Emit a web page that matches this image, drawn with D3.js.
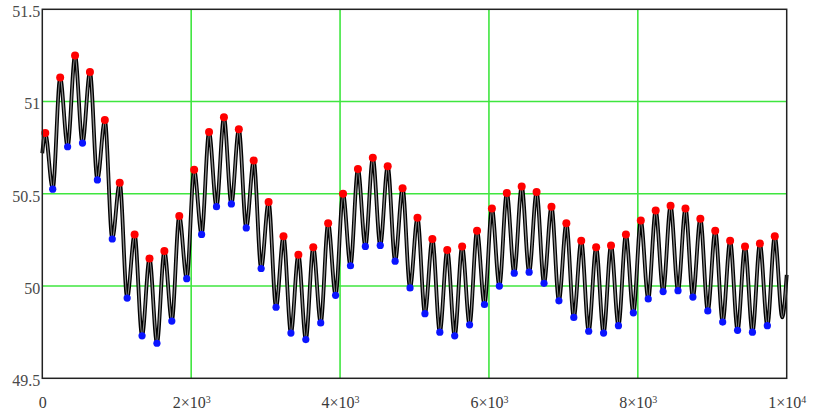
<!DOCTYPE html>
<html>
<head>
<meta charset="utf-8">
<title>Oscillation plot</title>
<script src="https://d3js.org/d3.v7.min.js"></script>
<style>
  body { margin: 0; background: #fff; }
  .tick text { font-family: "Liberation Serif", "Times New Roman", serif; font-size: 16px; }
</style>
</head>
<body>
<div id="chart"></div>
<script>
// values
var peakTimes = d3.range(40, 10000, 200);      // one maximum every 200 units
var troughTimes = d3.range(140, 10000, 200);   // minima half a cycle later

var peakValues = [50.83, 51.13, 51.25, 51.16, 50.90, 50.56, 50.28, 50.15, 50.19, 50.38,
  50.63, 50.835, 50.915, 50.85, 50.68, 50.455, 50.27, 50.17, 50.21, 50.34,
  50.50, 50.635, 50.695, 50.65, 50.53, 50.37, 50.255, 50.195, 50.215, 50.30,
  50.42, 50.505, 50.54, 50.51, 50.43, 50.34, 50.245, 50.21, 50.22, 50.28,
  50.355, 50.41, 50.435, 50.42, 50.365, 50.30, 50.245, 50.215, 50.23, 50.27];

var troughValues = [50.525, 50.755, 50.775, 50.575, 50.255, 49.935, 49.73, 49.69, 49.81, 50.04,
  50.28, 50.43, 50.445, 50.315, 50.095, 49.885, 49.745, 49.71, 49.80, 49.95,
  50.11, 50.215, 50.22, 50.135, 49.99, 49.85, 49.75, 49.73, 49.79, 49.90,
  50.00, 50.07, 50.075, 50.015, 49.92, 49.83, 49.755, 49.745, 49.785, 49.855,
  49.93, 49.97, 49.975, 49.94, 49.865, 49.805, 49.76, 49.75, 49.785, 49.83];

var startValue = 50.72, endValue = 50.06;   // line at x = 0 and x = 1e4

var xTicks = [0, 2000, 4000, 6000, 8000, 10000];
var xTickLabels = [["0", ""], ["2\u00d710", "3"], ["4\u00d710", "3"], ["6\u00d710", "3"], ["8\u00d710", "3"], ["1\u00d710", "4"]];
var yTicks = [49.5, 50, 50.5, 51, 51.5];
var yGrid = [50, 50.5, 51];
var xGrid = [2000, 4000, 6000, 8000];

// build the line: start, then alternating max / min, then end
var linePts = [{x: 0, y: startValue}];
peakTimes.forEach(function (t, i) {
  linePts.push({x: t, y: peakValues[i]});
  if (i < troughValues.length) linePts.push({x: troughTimes[i], y: troughValues[i]});
});
linePts.push({x: 10000, y: endValue});

var peaks = peakTimes.map(function (t, i) { return {x: t, y: peakValues[i]}; });
// the last minimum at the right edge carries no marker
var troughs = troughValues.slice(0, 49).map(function (v, i) { return {x: troughTimes[i], y: v}; });

var margin = {top: 9.3, right: 26.3, bottom: 37.7, left: 42.3},
    width = 813 - margin.left - margin.right,
    height = 416 - margin.top - margin.bottom;

var svg = d3.select("#chart").append("svg")
    .attr("width", 813)
    .attr("height", 416)
  .append("g")
    .attr("transform", "translate(" + margin.left + "," + margin.top + ")");

var x = d3.scaleLinear().domain([0, 10000]).range([0, width]);
var y = d3.scaleLinear().domain([49.5, 51.5]).range([height, 0]);

// grid
svg.selectAll(".hgrid").data(yGrid).enter().append("line")
    .attr("x1", 0).attr("x2", width)
    .attr("y1", function (d) { return y(d); }).attr("y2", function (d) { return y(d); })
    .style("stroke", "#3fe63f").style("stroke-width", 1.6);
svg.selectAll(".vgrid").data(xGrid).enter().append("line")
    .attr("y1", 0).attr("y2", height)
    .attr("x1", function (d) { return x(d); }).attr("x2", function (d) { return x(d); })
    .style("stroke", "#3fe63f").style("stroke-width", 1.6);

// signal
var line = d3.line()
    .x(function (d) { return x(d.x); })
    .y(function (d) { return y(d.y); })
    .curve(d3.curveMonotoneX);

svg.append("path").datum(linePts)
    .attr("d", line)
    .style("fill", "none").style("stroke", "#000").style("stroke-width", 3.8);
svg.append("path").datum(linePts)
    .attr("d", line)
    .style("fill", "none").style("stroke", "#8c8c8c").style("stroke-width", 1.4);

svg.selectAll(".peak").data(peaks).enter().append("circle")
    .attr("cx", function (d) { return x(d.x); })
    .attr("cy", function (d) { return y(d.y); })
    .attr("r", 4)
    .style("fill", "#ff0000");
svg.selectAll(".trough").data(troughs).enter().append("circle")
    .attr("cx", function (d) { return x(d.x); })
    .attr("cy", function (d) { return y(d.y); })
    .attr("r", 3.6)
    .style("fill", "#0a14ff");

// frame
svg.append("rect")
    .attr("width", width).attr("height", height)
    .style("fill", "none").style("stroke", "#222").style("stroke-width", 1.5);

// axes (labels only, like the original)
var yAxis = d3.axisLeft(y).tickValues(yTicks).tickSize(0).tickPadding(2)
    .tickFormat(function (d) { return d; });
var gy = svg.append("g").attr("class", "y axis").call(yAxis);
gy.select(".domain").remove();
gy.selectAll("text").style("fill", "#4a4a4a").attr("dy", "0.45em");

var xAxis = d3.axisBottom(x).tickValues(xTicks).tickSize(0).tickPadding(18);
var gx = svg.append("g").attr("class", "x axis")
    .attr("transform", "translate(0," + height + ")")
    .call(xAxis);
gx.select(".domain").remove();
gx.selectAll("text").each(function (d, i) {
  var t = d3.select(this).text("").style("fill", "#3a3a3a").attr("text-anchor", "middle");
  t.append("tspan").text(xTickLabels[i][0]);
  if (xTickLabels[i][1]) {
    t.append("tspan").attr("dy", "-0.5em").style("font-size", "10px").text(xTickLabels[i][1]);
  }
});
</script>
</body>
</html>
